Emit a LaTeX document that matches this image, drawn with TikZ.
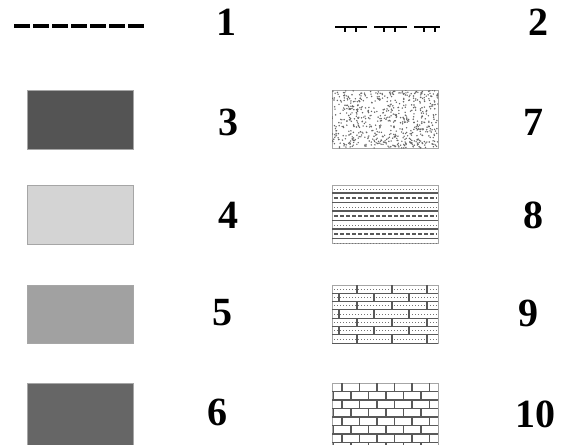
\documentclass[tikz,border=0pt]{standalone}
\usepackage{fontspec}
\setmainfont{Liberation Serif}

\tikzset{
  numlabel/.style={font=\fontsize{40}{40}\selectfont\bfseries, inner sep=0pt},
  swatch/.style={draw=black!35, line width=0.6pt},
  hatchline/.style={black!65, line width=1.1pt},
  dotrow/.style={black!55, line width=0.8pt, dash pattern=on 0.9pt off 2.1pt},
  dashrow/.style={black!65, line width=1.1pt, dash pattern=on 3.5pt off 2.5pt},
}

\begin{document}
\begin{tikzpicture}[x=1pt, y=-1pt]
\useasboundingbox (0,0) rectangle (564,444);

% Legend 1: dashed line
\coordinate (d1a) at (14,26);
\coordinate (d1b) at (145,26);
\draw[line width=3.2pt, dash pattern=on 16pt off 3pt] (d1a) -- (d1b);
\node[numlabel] (lbl1) at (226,22) {1};

% Legend 2: line with ticks
\foreach \xa/\xb in {335/367, 374/407, 414/440}{
  \draw[line width=2pt] (\xa,27) -- (\xb,27);
  \draw[line width=1.6pt] (\xa+10,27) -- (\xa+10,32);
  \draw[line width=1.6pt] (\xa+21,27) -- (\xa+21,32);
}
\node[numlabel] (lbl2) at (538,22) {2};

% Legend 3-6: grey swatches
\node[swatch, fill=black!67, minimum width=106pt, minimum height=59pt, inner sep=0pt] (box3) at (80,120) {};
\node[numlabel] (lbl3) at (228,122) {3};
\node[swatch, fill=black!17, minimum width=106pt, minimum height=59pt, inner sep=0pt] (box4) at (80,215) {};
\node[numlabel] (lbl4) at (228,215) {4};
\node[swatch, fill=black!37, minimum width=106pt, minimum height=58pt, inner sep=0pt] (box5) at (80,314) {};
\node[numlabel] (lbl5) at (222,313) {5};
\node[swatch, fill=black!60, minimum width=106pt, minimum height=62pt, inner sep=0pt] (box6) at (80,414) {};
\node[numlabel] (lbl6) at (217,412) {6};

% Legend 7: stipple
\node[swatch, minimum width=106pt, minimum height=58pt, inner sep=0pt] (box7) at (385,119) {};
\begin{scope}
\clip (332,90) rectangle (438,148);
\pgfmathsetseed{17}
\foreach \k in {1,...,650}{
  \pgfmathsetmacro\px{332+106*rnd}
  \pgfmathsetmacro\py{90+58*rnd}
  \fill[black!60] (\px,\py) circle (0.8);
}
\end{scope}
\node[numlabel] (lbl7) at (533,122) {7};

% Legend 8: banded lines
\node[swatch, minimum width=106pt, minimum height=58pt, inner sep=0pt] (box8) at (385,214) {};
\foreach \i in {0,1,2,3}{
  \draw[dotrow] (334,189+18*\i) -- (437,189+18*\i);
}
\foreach \i in {0,1,2}{
  \draw[hatchline] (332,193+18*\i) -- (438,193+18*\i);
  \draw[dashrow] (334,198+18*\i) -- (437,198+18*\i);
  \draw[hatchline] (332,202.5+18*\i) -- (438,202.5+18*\i);
}
\node[numlabel] (lbl8) at (533,215) {8};

% Legend 9: dotted bricks
\node[swatch, minimum width=106pt, minimum height=58pt, inner sep=0pt] (box9) at (385,314) {};
\begin{scope}
\clip (332,285) rectangle (438,343);
\foreach \r in {0,...,6}{
  \pgfmathsetmacro\ya{285+8.3*\r}
  \pgfmathsetmacro\yb{\ya+8.3}
  \draw[hatchline, line width=0.9pt] (332,\yb) -- (438,\yb);
  \draw[dotrow] (334,\ya+4.15) -- (437,\ya+4.15);
  \pgfmathsetmacro\off{mod(\r,2)==0 ? 357 : 339}
  \foreach \j in {0,1,2}{
    \draw[hatchline, line width=1.5pt] (\off+35*\j,\ya) -- (\off+35*\j,\yb);
  }
}
\end{scope}
\node[numlabel] (lbl9) at (528,313) {9};

% Legend 10: brick wall
\node[swatch, minimum width=106pt, minimum height=62pt, inner sep=0pt] (box10) at (385,414) {};
\begin{scope}
\clip (332,383) rectangle (438,444);
\foreach \r in {0,...,7}{
  \pgfmathsetmacro\ya{383+8.5*\r}
  \pgfmathsetmacro\yb{\ya+8.5}
  \draw[hatchline] (332,\yb) -- (438,\yb);
  \pgfmathsetmacro\off{mod(\r,2)==0 ? 342 : 333.5}
  \foreach \j in {0,...,6}{
    \draw[hatchline] (\off+17.5*\j,\ya) -- (\off+17.5*\j,\yb);
  }
}
\end{scope}
\node[numlabel] (lbl10) at (535,414) {10};

\end{tikzpicture}
\end{document}
